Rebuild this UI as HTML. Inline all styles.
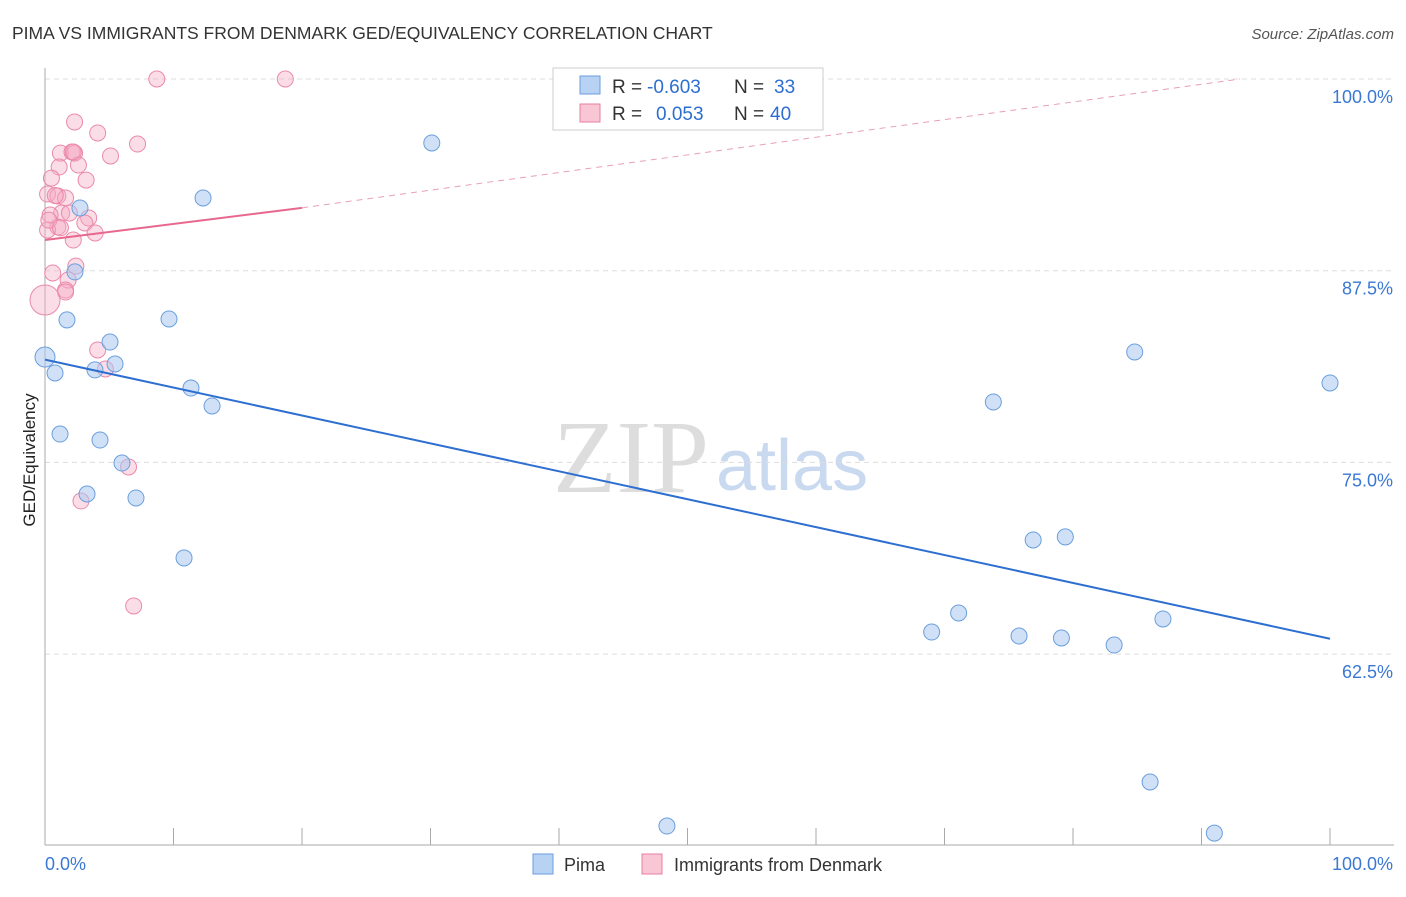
<!DOCTYPE html>
<html><head><meta charset="utf-8"><style>
body{margin:0;background:#fff;font-family:"Liberation Sans",sans-serif}
</style></head><body>
<svg id="c" width="1406" height="892" xmlns="http://www.w3.org/2000/svg">
<text x="12" y="39" font-size="17.5" fill="#333">PIMA VS IMMIGRANTS FROM DENMARK GED/EQUIVALENCY CORRELATION CHART</text>
<text x="1394" y="39" font-size="15" fill="#555" font-style="italic" text-anchor="end">Source: ZipAtlas.com</text>
<text x="35" y="460" font-size="17" fill="#222" text-anchor="middle" transform="rotate(-90 35 460)">GED/Equivalency</text>
<text x="553" y="492" font-size="104" fill="#ddd" font-family="Liberation Serif,serif">ZIP</text>
<text x="716" y="490" font-size="72" fill="#c9d9ef">atlas</text>
<g id="grid"></g><g id="pts"></g><g id="lines"></g>
<g>
<rect x="553" y="68" width="270" height="62" fill="#fff" stroke="#ccc"/>
<rect x="580" y="76" width="20" height="18" fill="#b8d2f3" stroke="#6a9fdd"/>
<rect x="580" y="104" width="20" height="18" fill="#f9c6d5" stroke="#e87fa0"/>
<text x="612" y="93" font-size="19" fill="#333">R =</text>
<text x="647" y="93" font-size="19" fill="#2d6fd0">-0.603</text>
<text x="734" y="93" font-size="19" fill="#333">N =</text>
<text x="774" y="93" font-size="19" fill="#2d6fd0">33</text>
<text x="612" y="120" font-size="19" fill="#333">R =</text>
<text x="656" y="120" font-size="19" fill="#2d6fd0">0.053</text>
<text x="734" y="120" font-size="19" fill="#333">N =</text>
<text x="770" y="120" font-size="19" fill="#2d6fd0">40</text>
</g>
<g>
<rect x="533" y="854" width="20" height="20" fill="#b8d2f3" stroke="#6a9fdd"/>
<text x="564" y="871" font-size="18" fill="#333">Pima</text>
<rect x="642" y="854" width="20" height="20" fill="#f9c6d5" stroke="#e87fa0"/>
<text x="674" y="871" font-size="18" fill="#333">Immigrants from Denmark</text>
</g>
</svg>
<script>
const yTicks=[100,87.5,75,62.5];
const xTickLabels=["0.0%","100.0%"];
const pimaX=[0,0.78,1.17,1.71,2.72,2.33,3.27,3.89,4.28,5.06,5.45,5.99,7.08,9.65,10.82,11.36,12.3,13,30.1,48.4,69.0,71.1,73.8,75.8,76.9,79.1,79.4,83.2,84.8,86,87,91,100];
const pimaY=[81.87,80.83,76.85,84.29,91.59,87.42,72.94,81.03,76.46,82.85,81.42,74.96,72.68,84.35,68.77,79.85,92.24,78.68,95.83,51.29,63.94,65.18,78.94,63.68,69.94,63.55,70.14,63.09,82.2,54.16,64.79,50.83,80.18];
const denX=[8.7,18.7,2.3,4.1,7.2,1.2,2.1,2.3,5.1,1.1,2.6,0.5,3.2,0.2,1,1.6,1.3,0.4,3.4,3.1,1,0.2,3.9,2.2,2.4,0.6,1.8,1.6,1.6,0,4.1,4.7,6.5,2.8,6.9,0.3,1.9,0.8,1.2,2.2];
const denY=[100,100,97.2,96.48,95.76,95.17,95.24,95.17,94.98,94.26,94.39,93.54,93.41,92.5,92.37,92.24,91.26,91.13,90.94,90.61,90.35,90.15,89.96,89.5,87.8,87.35,86.89,86.24,86.11,85.59,82.33,81.09,74.7,72.48,65.64,90.8,91.26,92.4,90.3,95.24];
const pimaFit=[81.7,63.5], denFit=[89.5,91.6,100], denFitX=[0,20,93];
const sx=v=>45+v*12.85, sy=v=>79+(100-v)/12.5*191.7;
const NS="http://www.w3.org/2000/svg";
function mk(t,a,p){const e=document.createElementNS(NS,t);for(const k in a)e.setAttribute(k,a[k]);document.getElementById(p).appendChild(e);return e;}
yTicks.forEach(t=>{const l=mk('line',{x1:45,x2:1394,y1:sy(t),y2:sy(t),stroke:'#ddd','stroke-dasharray':'5,4'},'grid');


const tx=mk('text',{x:1393,y:sy(t)+24,'font-size':18,fill:'#3a78d4','text-anchor':'end'},'grid');tx.textContent=t.toFixed(1)+'%';

});
mk('line',{x1:45,x2:45,y1:68,y2:845,stroke:'#aaa'},'grid');
mk('line',{x1:45,x2:1394,y1:845,y2:845,stroke:'#aaa'},'grid');
for(let i=0;i<=10;i++)mk('line',{x1:sx(i*10),x2:sx(i*10),y1:828,y2:845,stroke:'#aaa'},'grid');
xTickLabels.forEach((s,i)=>{const t=mk('text',{x:i?1393:45,y:870,'font-size':18,fill:'#3a78d4','text-anchor':i?'end':'start'},'grid');t.textContent=s;

});
denX.forEach((x,i)=>{const c=mk('circle',{cx:sx(x),cy:sy(denY[i]),r:x===0?15:8,fill:'rgba(246,170,195,0.4)',stroke:'#ea8aaa','stroke-width':1},'pts');

});
pimaX.forEach((x,i)=>{const c=mk('circle',{cx:sx(x),cy:sy(pimaY[i]),r:x===0?10:8,fill:'rgba(170,200,240,0.55)',stroke:'#6a9fdd','stroke-width':1},'pts');

});
let l=mk('line',{x1:sx(0),y1:sy(pimaFit[0]),x2:sx(100),y2:sy(pimaFit[1]),stroke:'#2d6fd0','stroke-width':2},'lines');


l=mk('line',{x1:sx(denFitX[0]),y1:sy(denFit[0]),x2:sx(denFitX[1]),y2:sy(denFit[1]),stroke:'#e8678f','stroke-width':2},'lines');


l=mk('line',{x1:sx(denFitX[1]),y1:sy(denFit[1]),x2:sx(denFitX[2]),y2:sy(denFit[2]),stroke:'#e8a0b5','stroke-width':1,'stroke-dasharray':'6,5'},'lines');


</script>
</body></html>
